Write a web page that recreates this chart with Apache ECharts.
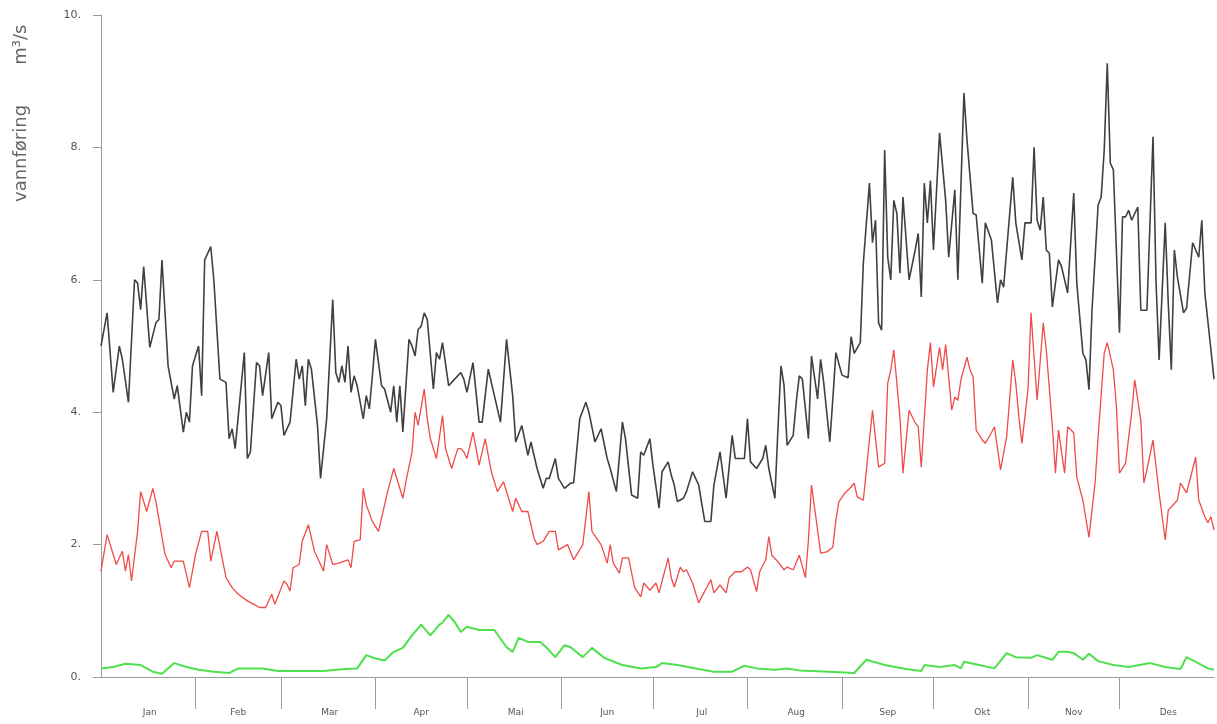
<!DOCTYPE html>
<html>
<head>
<meta charset="utf-8">
<script src="https://cdn.jsdelivr.net/npm/echarts@6/dist/echarts.min.js"></script>
<style>
  html, body { margin: 0; padding: 0; background: #fff; }
  #chart { width: 1217px; height: 724px; }
</style>
</head>
<body>
<div id="chart"></div>
<script>
//månedsnavn og dag for første dag i måneden
var months = ['Jan', 'Feb', 'Mar', 'Apr', 'Mai', 'Jun', 'Jul', 'Aug', 'Sep', 'Okt', 'Nov', 'Des'];
var monthStarts = [0, 31, 59, 90, 120, 151, 181, 212, 243, 273, 304, 334, 365];
var yTicks = [0, 2, 4, 6, 8, 10];

//svart serie [dag, verdi]
var blackSeries = [
    [0,5.0],[2,5.5],[4,4.3],[6,5.0],[7,4.8],[9,4.15],[11,6.0],[12,5.95],[13,5.55],[14,6.2],[16,4.98],[18,5.35],[19,5.4],[20,6.3],
    [22,4.7],[24,4.2],[25,4.4],[27,3.7],[28,4.0],[29,3.85],[30,4.7],[32,5.0],[33,4.25],[34,6.3],[36,6.5],[37,6.0],[39,4.5],[41,4.45],
    [42,3.6],[43,3.75],[44,3.45],[47,4.9],[48,3.3],[49,3.4],[51,4.75],[52,4.7],[53,4.25],[55,4.9],[56,3.9],[58,4.15],[59,4.1],[60,3.65],
    [62,3.85],[64,4.8],[65,4.5],[66,4.7],[67,4.1],[68,4.8],[69,4.65],[71,3.8],[72,3.0],[74,3.9],[76,5.7],[77,4.6],[78,4.45],[79,4.7],
    [80,4.45],[81,5.0],[82,4.3],[83,4.55],[84,4.4],[86,3.9],[87,4.25],[88,4.05],[89,4.55],[90,5.1],[92,4.4],[93,4.35],[95,4.0],[96,4.4],
    [97,3.85],[98,4.4],[99,3.7],[101,5.1],[102,5.0],[103,4.85],[104,5.25],[105,5.3],[106,5.5],[107,5.4],[109,4.35],[110,4.9],[111,4.8],
    [112,5.05],[114,4.4],[115,4.45],[118,4.6],[119,4.5],[120,4.3],[122,4.75],[124,3.85],[125,3.85],[127,4.65],[129,4.25],[131,3.85],
    [133,5.1],[135,4.25],[136,3.55],[138,3.8],[140,3.35],[141,3.55],[143,3.15],[145,2.85],[146,3.0],[147,3.0],[149,3.3],[150,3.0],
    [152,2.85],[154,2.93],[155,2.93],[157,3.9],[159,4.15],[160,4.0],[162,3.55],[164,3.75],[166,3.3],[167,3.15],[169,2.8],[171,3.85],
    [172,3.6],[174,2.75],[176,2.7],[177,3.4],[178,3.35],[180,3.6],[181,3.2],[183,2.55],[184,3.1],[186,3.25],[187,3.05],[188,2.9],
    [189,2.65],[191,2.7],[192,2.8],[194,3.1],[195,3.0],[196,2.9],[198,2.35],[200,2.35],[201,2.9],[203,3.4],[205,2.7],[207,3.65],
    [208,3.3],[210,3.3],[211,3.3],[212,3.9],[213,3.25],[215,3.15],[217,3.3],[218,3.5],[219,3.15],[221,2.7],[222,3.75],[223,4.7],
    [224,4.4],[225,3.5],[227,3.65],[228,4.15],[229,4.55],[230,4.5],[232,3.6],[233,4.85],[235,4.2],[236,4.8],[237,4.45],[239,3.55],
    [240,4.2],[241,4.9],[243,4.56],[245,4.52],[246,5.14],[247,4.89],[249,5.05],[250,6.25],[252,7.46],[253,6.56],[254,6.9],[255,5.35],
    [256,5.24],[257,7.96],[258,6.34],[259,6.0],[260,7.2],[261,7.0],[262,6.1],[263,7.25],[265,6.0],[267,6.45],[268,6.7],[269,5.74],
    [270,7.46],[271,6.86],[272,7.5],[273,6.45],[275,8.22],[277,7.2],[278,6.34],[280,7.36],[281,6.0],[283,8.82],[284,8.11],[286,7.0],
    [287,6.98],[289,5.95],[290,6.86],[292,6.6],[294,5.65],[295,6.0],[296,5.89],[299,7.55],[300,6.86],[302,6.3],[303,6.86],[305,6.86],
    [306,8.0],[307,6.9],[308,6.75],[309,7.25],[310,6.45],[311,6.4],[312,5.59],[314,6.3],[315,6.2],[317,5.8],[319,7.31],[320,5.95],
    [322,4.89],[323,4.79],[324,4.34],[325,5.54],[327,7.13],[328,7.25],[329,7.96],[330,9.27],[331,7.76],[332,7.66],[334,5.2],[335,6.95],
    [336,6.95],[337,7.05],[338,6.9],[340,7.1],[341,5.54],[343,5.54],[345,8.16],[346,5.95],[347,4.79],[349,6.86],[350,5.65],[351,4.64],
    [352,6.45],[353,6.04],[355,5.5],[356,5.57],[358,6.56],[360,6.34],[361,6.9],[362,5.8],[364,4.94],[365,4.5]
];

//rød serie [dag, verdi]
var redSeries = [
    [0,1.6],[2,2.15],[4,1.85],[5,1.7],[7,1.9],[8,1.6],[9,1.85],[10,1.45],[12,2.2],[13,2.8],[15,2.5],[17,2.85],[18,2.65],[21,1.85],
    [23,1.65],[24,1.75],[27,1.75],[29,1.35],[31,1.85],[33,2.2],[35,2.2],[36,1.75],[38,2.2],[41,1.5],[43,1.35],[45,1.25],[48,1.15],
    [50,1.1],[52,1.05],[54,1.05],[56,1.25],[57,1.1],[60,1.45],[61,1.4],[62,1.3],[63,1.65],[65,1.7],[66,2.05],[68,2.3],[70,1.9],
    [73,1.6],[74,2.0],[76,1.7],[78,1.72],[81,1.77],[82,1.65],[83,2.05],[85,2.07],[86,2.85],[87,2.6],[89,2.35],[91,2.2],[94,2.8],
    [96,3.15],[99,2.7],[100,2.95],[102,3.4],[103,4.0],[104,3.8],[106,4.35],[107,3.9],[108,3.6],[110,3.3],[112,3.95],[113,3.45],
    [115,3.15],[117,3.45],[118,3.45],[119,3.4],[120,3.3],[122,3.7],[124,3.2],[126,3.6],[128,3.1],[130,2.8],[132,2.95],[135,2.5],
    [136,2.7],[138,2.5],[140,2.5],[142,2.1],[143,2.0],[145,2.05],[147,2.2],[149,2.2],[150,1.92],[153,2.0],[155,1.77],[158,2.0],
    [160,2.8],[161,2.2],[164,2.0],[166,1.72],[167,2.0],[168,1.72],[170,1.57],[171,1.8],[173,1.8],[175,1.35],[177,1.21],[178,1.42],
    [180,1.31],[182,1.42],[183,1.27],[186,1.8],[187,1.5],[188,1.36],[190,1.66],[191,1.59],[192,1.62],[194,1.42],[196,1.12],[197,1.21],
    [200,1.47],[201,1.27],[203,1.39],[205,1.27],[206,1.5],[208,1.59],[210,1.59],[212,1.66],[213,1.62],[215,1.29],[216,1.59],[218,1.77],
    [219,2.12],[220,1.84],[222,1.74],[224,1.62],[225,1.66],[227,1.62],[229,1.84],[231,1.5],[232,2.07],[233,2.9],[235,2.22],[236,1.87],
    [238,1.89],[240,1.96],[241,2.37],[242,2.65],[244,2.78],[246,2.87],[247,2.93],[248,2.72],[250,2.67],[253,4.03],[255,3.17],[257,3.23],
    [258,4.44],[259,4.64],[260,4.94],[262,3.93],[263,3.08],[265,4.03],[267,3.84],[268,3.78],[269,3.17],[271,4.64],[272,5.05],[273,4.38],
    [275,4.98],[276,4.64],[277,5.02],[279,4.03],[280,4.23],[281,4.18],[282,4.49],[284,4.83],[285,4.64],[286,4.53],[287,3.73],[289,3.58],
    [290,3.53],[292,3.69],[293,3.78],[295,3.13],[297,3.63],[299,4.79],[300,4.44],[301,3.93],[302,3.53],[304,4.34],[305,5.5],[306,4.83],
    [307,4.18],[309,5.35],[310,4.94],[312,3.78],[313,3.08],[314,3.73],[316,3.08],[317,3.78],[319,3.69],[320,3.02],[322,2.67],[324,2.11],
    [326,2.93],[327,3.63],[329,4.89],[330,5.05],[332,4.64],[333,4.08],[334,3.08],[336,3.23],[338,3.99],[339,4.49],[341,3.88],[342,2.93],
    [343,3.13],[345,3.58],[347,2.78],[349,2.07],[350,2.52],[353,2.67],[354,2.93],[356,2.78],[359,3.32],[360,2.67],[362,2.42],[363,2.33],
    [364,2.42],[365,2.22]
];

//grønn serie [dag, verdi]
var greenSeries = [
    [0,0.13],[4,0.15],[8,0.2],[13,0.18],[17,0.08],[20,0.05],[24,0.21],[28,0.15],[32,0.11],[37,0.08],[42,0.06],[45,0.13],[53,0.13],
    [58,0.09],[73,0.09],[80,0.12],[84,0.13],[87,0.33],[90,0.28],[93,0.25],[96,0.38],[99,0.44],[102,0.63],[105,0.79],[108,0.63],
    [111,0.79],[112,0.82],[114,0.94],[116,0.83],[118,0.68],[120,0.76],[124,0.71],[129,0.71],[133,0.45],[135,0.38],[137,0.59],[140,0.53],
    [144,0.53],[146,0.45],[149,0.3],[152,0.48],[154,0.45],[158,0.3],[161,0.44],[165,0.29],[171,0.18],[177,0.13],[182,0.15],[184,0.21],
    [189,0.18],[196,0.12],[201,0.08],[207,0.08],[211,0.17],[215,0.13],[221,0.11],[225,0.13],[229,0.1],[239,0.08],[247,0.06],[251,0.26],
    [257,0.18],[264,0.12],[269,0.09],[270,0.18],[275,0.15],[280,0.18],[282,0.13],[283,0.23],[288,0.18],[293,0.13],[297,0.36],[300,0.3],
    [305,0.29],[307,0.33],[312,0.26],[314,0.38],[317,0.38],[319,0.36],[322,0.26],[324,0.35],[327,0.24],[332,0.18],[337,0.15],[344,0.21],
    [349,0.15],[354,0.12],[356,0.3],[359,0.23],[363,0.13],[365,0.11]
];

//kategorier for hver dag, brukes bare til månedsstreker og navn
var days = [];
for (var i = 0; i <= 365; i++) {
    days.push(i);
}
//midt i hver måned for navnene
var monthMids = [];
for (var i = 0; i < months.length; i++) {
    monthMids.push(Math.round((monthStarts[i] + monthStarts[i + 1]) / 2));
}
//skillestreker bare mellom månedene
var separators = monthStarts.slice(1, 12);

var axisGray = '#9a9a9a';
var textGray = '#555';
var font = 'DejaVu Sans';

var option = {
    animation: false,
    backgroundColor: '#fff',
    grid: { left: 101, right: 3, top: 15, bottom: 47 },
    xAxis: [
        {
            type: 'value',
            min: 0,
            max: 365,
            show: false
        },
        {
            type: 'category',
            data: days,
            boundaryGap: false,
            position: 'bottom',
            axisLine: { show: true, onZero: false, lineStyle: { color: axisGray, width: 1 } },
            axisTick: {
                show: true,
                length: 32,
                interval: function(index) { return separators.indexOf(index) > -1; },
                lineStyle: { color: axisGray, width: 1 }
            },
            axisLabel: {
                interval: function(index) { return monthMids.indexOf(index) > -1; },
                formatter: function(value) {
                    var k = monthMids.indexOf(Number(value));
                    return k > -1 ? months[k] : '';
                },
                margin: 31,
                color: textGray,
                fontSize: 9,
                fontFamily: font
            },
            splitLine: { show: false }
        }
    ],
    yAxis: {
        type: 'value',
        min: 0,
        max: 10,
        interval: 2,
        axisLine: { show: true, lineStyle: { color: axisGray, width: 1 } },
        axisTick: { show: true, length: 8, lineStyle: { color: axisGray } },
        axisLabel: {
            formatter: function(v) { return yTicks.indexOf(v) > -1 ? v + '.' : ''; },
            margin: 20,
            color: textGray,
            fontSize: 11,
            fontFamily: font
        },
        splitLine: { show: false }
    },
    graphic: [
        {
            type: 'text',
            x: 12,
            y: 202,
            rotation: Math.PI / 2,
            style: {
                text: 'vannføring       m³/s',
                fill: '#666',
                font: '18px "DejaVu Sans"',
                textAlign: 'left',
                textVerticalAlign: 'top'
            }
        }
    ],
    series: [
        {
            type: 'line',
            xAxisIndex: 0,
            data: blackSeries,
            showSymbol: false,
            lineStyle: { color: '#404040', width: 1.6 },
            z: 3
        },
        {
            type: 'line',
            xAxisIndex: 0,
            data: redSeries,
            showSymbol: false,
            lineStyle: { color: '#f04a4a', width: 1.3 },
            z: 2
        },
        {
            type: 'line',
            xAxisIndex: 0,
            data: greenSeries,
            showSymbol: false,
            lineStyle: { color: '#4ee04e', width: 2 },
            z: 2
        }
    ]
};

var chart = echarts.init(document.getElementById('chart'));
chart.setOption(option);
</script>
</body>
</html>
